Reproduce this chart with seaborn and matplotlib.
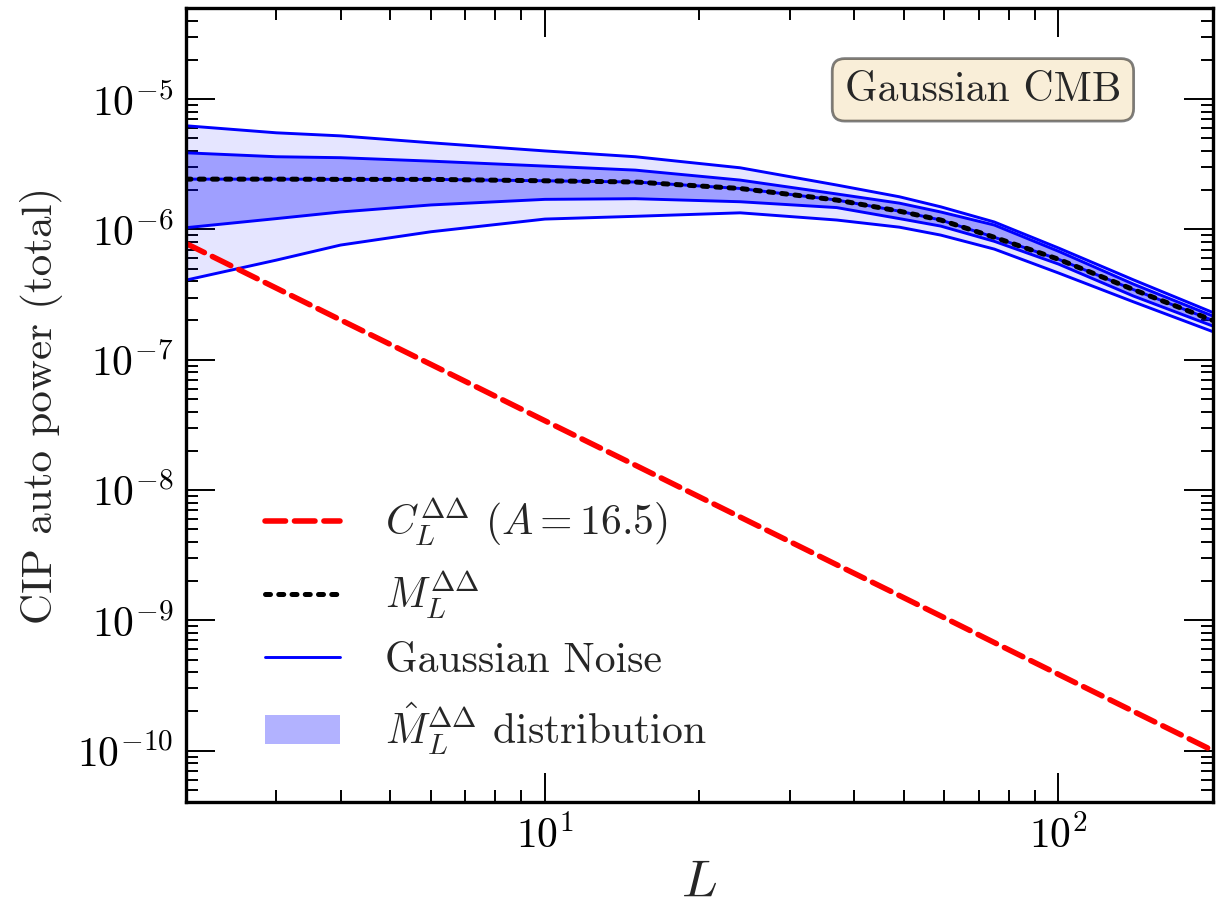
import numpy as np
import pandas as pd
import matplotlib
matplotlib.use("Agg")
import matplotlib.pyplot as plt
import matplotlib.ticker as mticker
import seaborn as sns

# Multipoles
ell = [2, 3, 4, 6, 10, 15, 24, 37, 49, 59, 75, 100, 140, 200]

# Theory CIP spectrum (A = 16.5)
cl_dd = [7.8e-7, 3.54e-7, 2.02e-7, 9.2e-8, 3.4e-8, 1.55e-8, 6.2e-9, 2.67e-9,
         1.55e-9, 1.08e-9, 6.75e-10, 3.85e-10, 2.0e-10, 1.0e-10]

# Mean reconstruction-noise power
m_dd = [2.43e-6, 2.43e-6, 2.42e-6, 2.42e-6, 2.36e-6, 2.31e-6, 2.06e-6, 1.68e-6,
        1.38e-6, 1.18e-6, 8.7e-7, 5.9e-7, 3.45e-7, 2.0e-7]

# Spread of the estimated power (outer and inner envelopes)
outer_hi = [6.24e-6, 5.51e-6, 5.22e-6, 4.62e-6, 4.0e-6, 3.61e-6, 2.97e-6, 2.19e-6,
            1.78e-6, 1.49e-6, 1.14e-6, 7.2e-7, 4.1e-7, 2.3e-7]
inner_hi = [3.87e-6, 3.61e-6, 3.55e-6, 3.34e-6, 3.06e-6, 2.85e-6, 2.39e-6, 1.87e-6,
            1.59e-6, 1.36e-6, 1.08e-6, 6.8e-7, 3.8e-7, 2.16e-7]
inner_lo = [1.03e-6, 1.21e-6, 1.36e-6, 1.54e-6, 1.70e-6, 1.72e-6, 1.63e-6, 1.47e-6,
            1.21e-6, 1.06e-6, 8.1e-7, 5.42e-7, 3.08e-7, 1.81e-7]
outer_lo = [4.08e-7, 5.81e-7, 7.58e-7, 9.59e-7, 1.20e-6, 1.26e-6, 1.34e-6, 1.18e-6,
            1.04e-6, 9.04e-7, 7.06e-7, 4.63e-7, 2.78e-7, 1.64e-7]

df = pd.DataFrame({"L": ell, "C": cl_dd, "M": m_dd,
                   "uo": outer_hi, "ui": inner_hi, "li": inner_lo, "lo": outer_lo})

sns.set_style("ticks")
plt.rcParams.update({
    "font.family": "serif",
    "font.serif": ["cmr10", "DejaVu Serif"],
    "mathtext.fontset": "cm",
    "axes.formatter.use_mathtext": True,
    "axes.unicode_minus": True,
    "axes.linewidth": 2.4,
    "axes.edgecolor": "black",
    "xtick.direction": "in",
    "ytick.direction": "in",
    "xtick.top": True,
    "ytick.right": True,
    "xtick.major.size": 21,
    "ytick.major.size": 21,
    "xtick.minor.size": 8.6,
    "ytick.minor.size": 8.6,
    "xtick.major.width": 1.4,
    "ytick.major.width": 1.4,
    "xtick.minor.width": 1.4,
    "ytick.minor.width": 1.4,
    "xtick.color": "black",
    "ytick.color": "black",
})

fig = plt.figure(figsize=(12.25, 9.09), dpi=100)
ax = fig.add_axes([0.1518, 0.1172, 0.8384, 0.874])

band_outer = ax.fill_between(df["L"], df["lo"], df["uo"], color="blue", alpha=0.1, lw=0)
band_inner = ax.fill_between(df["L"], df["li"], df["ui"], color="blue", alpha=0.3, lw=0)

for col in ["uo", "ui", "M", "li", "lo"]:
    sns.lineplot(data=df, x="L", y=col, ax=ax, color="blue", lw=2.1, legend=False)

sns.lineplot(data=df, x="L", y="C", ax=ax, color="red", lw=4, linestyle="--",
             dash_capstyle="round", legend=False)
sns.lineplot(data=df, x="L", y="M", ax=ax, color="black", lw=3.6, linestyle=":",
             dash_capstyle="round", legend=False)

ax.set_xscale("log")
ax.set_yscale("log")
ax.set_xlim(2, 200)
ax.set_ylim(4e-11, 5e-5)

ax.xaxis.set_major_locator(mticker.LogLocator(base=10, numticks=20))
ax.xaxis.set_minor_locator(mticker.LogLocator(base=10, subs=np.arange(2, 10), numticks=20))
ax.yaxis.set_major_locator(mticker.LogLocator(base=10, numticks=30))
ax.yaxis.set_minor_locator(mticker.LogLocator(base=10, subs=np.arange(2, 10), numticks=30))
ax.xaxis.set_minor_formatter(mticker.NullFormatter())
ax.yaxis.set_minor_formatter(mticker.NullFormatter())
ax.tick_params(axis="both", which="major", labelsize=30, pad=9)

ax.set_xlabel(r"$L$", fontsize=38, labelpad=3)
ax.set_ylabel("CIP auto power (total)", fontsize=31, labelpad=10)

lines = ax.get_lines()
h_noise = lines[0]
h_c = lines[5]
h_m = lines[6]
ax.legend([h_c, h_m, h_noise, band_inner],
          [r"$C_L^{\Delta\Delta}$ $(A=16.5)$", r"$M_L^{\Delta\Delta}$",
           "Gaussian Noise", r"$\hat{M}_L^{\Delta\Delta}$ distribution"],
          loc="lower left", bbox_to_anchor=(0.04, 0.01), frameon=False,
          fontsize=30, handlelength=1.8, labelspacing=0.5, handletextpad=1.1)

ax.text(0.776, 0.897, "Gaussian CMB", transform=ax.transAxes, fontsize=30,
        ha="center", va="center",
        bbox=dict(boxstyle="round", facecolor="wheat", edgecolor="black",
                  alpha=0.5, lw=2))

fig.savefig("out.png", dpi=100)
